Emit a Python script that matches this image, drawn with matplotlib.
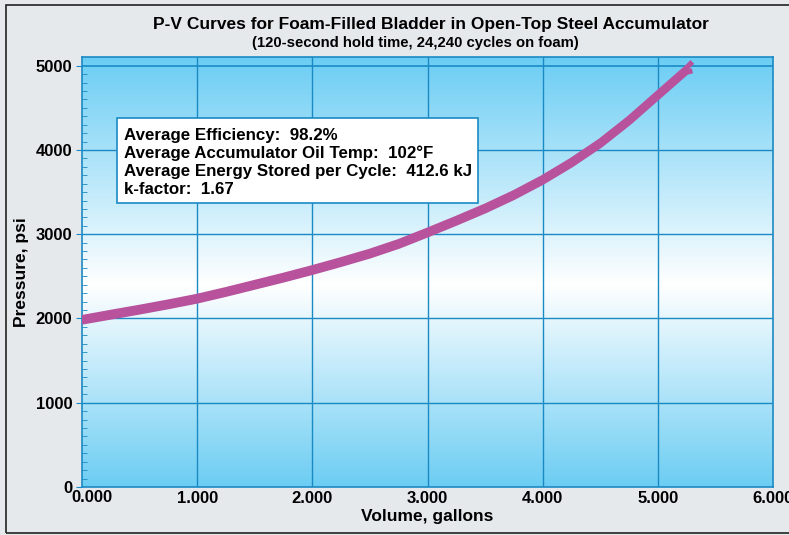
import matplotlib
matplotlib.use("Agg")
import matplotlib.pyplot as plt
import numpy as np
from matplotlib.colors import LinearSegmentedColormap
from matplotlib.patches import Rectangle

title = "P-V Curves for Foam-Filled Bladder in Open-Top Steel Accumulator"
subtitle = "(120-second hold time, 24,240 cycles on foam)"
xlabel = "Volume, gallons"
ylabel = "Pressure, psi"
info_lines = ["Average Efficiency:  98.2%",
              "Average Accumulator Oil Temp:  102°F",
              "Average Energy Stored per Cycle:  412.6 kJ",
              "k-factor:  1.67"]

volume = [0.00, 0.25, 0.50, 0.75, 1.00, 1.25, 1.50, 1.75, 2.00, 2.25, 2.50,
          2.75, 3.00, 3.25, 3.50, 3.75, 4.00, 4.25, 4.50, 4.75, 5.00, 5.25, 5.30]
pressure_up = [2010, 2072, 2132, 2195, 2262, 2342, 2427, 2512, 2602, 2697, 2797,
               2912, 3047, 3187, 3332, 3492, 3672, 3877, 4107, 4377, 4677, 4977, 5045]
pressure_down = [1958, 2018, 2078, 2141, 2208, 2288, 2373, 2458, 2548, 2643, 2743,
                 2858, 2993, 3133, 3278, 3438, 3618, 3823, 4053, 4323, 4623, 4923, 4940]

xticks = [0, 1, 2, 3, 4, 5, 6]
xticklabels = ["0.000", "1.000", "2.000", "3.000", "4.000", "5.000", "6.000"]
yticks = [0, 1000, 2000, 3000, 4000, 5000]

W, H = 789, 535
fig = plt.figure(figsize=(W/100, H/100), dpi=100, facecolor="#e6e9ec")
fig.patches.append(Rectangle((6/W, 2/H), 1.0, 1 - 7/H, transform=fig.transFigure,
                             fill=False, edgecolor="#222222", lw=1.2))

ax = fig.add_axes([82/W, 1 - 487/H, (773-82)/W, (487-57)/H])
ymax = 5000 * 430 / 421.3
ax.set_xlim(0, 6)
ax.set_ylim(0, ymax)

cmap = LinearSegmentedColormap.from_list("bg", [(0, "#6ccdf3"), (0.47, "#ffffff"), (1, "#6bcdf4")])
grad = np.linspace(0, 1, 256).reshape(-1, 1)
ax.imshow(grad, extent=[0, 6, 0, ymax], origin="lower", aspect="auto", cmap=cmap, zorder=0)

gc = "#1a8ac4"
for x in xticks[1:-1]:
    ax.axvline(x, color=gc, lw=1.0, zorder=1)
for y in yticks[1:]:
    ax.axhline(y, color=gc, lw=1.2 if y == 5000 else 1.0, zorder=1)
for s in ax.spines.values():
    s.set_color(gc)
    s.set_linewidth(1.2)

ax.plot(volume, pressure_up, color="#b8529c", lw=3.8, solid_capstyle="butt", zorder=3)
ax.plot(volume, pressure_down, color="#b8529c", lw=3.8, solid_capstyle="butt", zorder=3)

fam = ["Liberation Sans", "DejaVu Sans"]
ax.set_xticks(xticks)
ax.set_xticklabels([""] + xticklabels[1:], fontsize=12, fontweight="bold", family=fam)
ax.set_yticks(yticks)
ax.set_yticklabels([str(v) for v in yticks], fontsize=12, fontweight="bold", family=fam)
ax.set_yticks(np.arange(0, 5001, 100), minor=True)
ax.tick_params(axis="y", which="major", length=4, color=gc, pad=3)
ax.tick_params(axis="y", which="minor", length=3.5, color=gc, direction="in")
ax.tick_params(axis="x", which="major", length=0, pad=3)
fig.text(92/W, 1 - 497.5/H, xticklabels[0], ha="center", va="center",
         fontsize=12, fontweight="bold", family=fam)

ax.set_xlabel(xlabel, fontsize=12.5, fontweight="bold", family=fam, labelpad=2)
ax.set_ylabel(ylabel, fontsize=12.5, fontweight="bold", family=fam, labelpad=5)

fig.text(431/W, 1 - 24/H, title, ha="center", va="center", fontsize=12.5, fontweight="bold", family=fam)
fig.text(415/W, 1 - 43/H, subtitle, ha="center", va="center", fontsize=10.7, fontweight="bold", family=fam)

ax.add_patch(Rectangle((117/W, 1 - 203/H), (478-117)/W, (203-118)/H, transform=fig.transFigure,
                       facecolor="white", edgecolor=gc, lw=1.2, zorder=5, clip_on=False))
baselines = [140, 158, 176, 194]
for line, b in zip(info_lines, baselines):
    fig.text(124/W, 1 - b/H, line, ha="left", va="baseline", fontsize=12.2,
             fontweight="bold", family=fam, zorder=6)

fig.savefig("out.png", dpi=100, facecolor=fig.get_facecolor())
